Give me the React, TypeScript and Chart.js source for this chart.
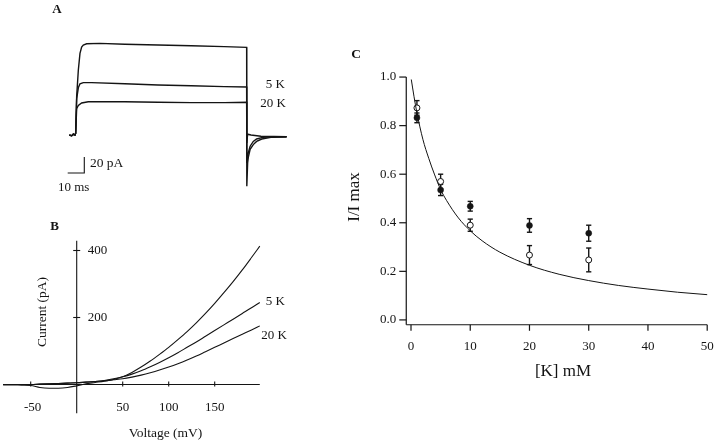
import React, { useEffect, useRef } from "react";
import { Chart, registerables } from "chart.js";

Chart.register(...registerables);

const FONT = '"Liberation Serif", "Times New Roman", serif';
const INK = "#141414";

// ---------------- Panel A: current traces (time in ms, current in pA) ----------------
const ctrlTime = [-3.4, -2, -1, 0, 0.4, 1, 2, 3, 4, 5, 7, 15, 30, 50, 70, 90, 103.4, 103.5, 104, 104.4, 105.5, 107.4, 109.4, 112.5, 118, 127.5];
const ctrlCurrent = [0, -1, 1, 0, 2, 48, 81, 102, 110, 112.5, 114, 114.5, 113.5, 112.5, 111.5, 110.5, 109.6, -64, -35, -28, -18, -12, -8, -5, -3, -2.5];
const k5Time = [-3.4, -2, -1, 0, 0.4, 1, 2, 3, 5, 10, 30, 50, 70, 90, 103.4, 103.5, 104.4, 105.5, 107.4, 109.4, 113, 127.5];
const k5Current = [0, -1, 1, 0, 2, 45, 59, 64, 65.5, 65.5, 64, 62.5, 61.5, 60.5, 60, -35, -22, -14, -8, -5, -3, -2];
const k20Time = [-3.4, -2, -1, 0, 0.4, 1, 2, 4, 8, 30, 50, 70, 90, 103.4, 103.5, 104, 106, 112, 127.5];
const k20Current = [0, -1, 1, 0, 2, 33, 37, 40, 41.5, 41.5, 41, 40.5, 40.5, 41, -10, 1, 0, -1.5, -2];
const scaleBarTime = [-4.4, 5.6, 5.6];
const scaleBarCurrent = [-47.5, -47.5, -27.5];
const traceLabels = ["5 K", "20 K"];
const scaleBarLabels = ["20 pA", "10 ms"];

// ---------------- Panel B: I-V curves (voltage mV, current pA) ----------------
const ivVoltage = [-80, -70, -60, -50, -40, -30, -20, -10, 0, 10, 20, 30, 40, 50, 60, 70, 80, 90, 100, 110, 120, 130, 140, 150, 160, 170, 180, 190, 199];
const ivCtrl = [-1, -1, -2, -3, -9, -11, -11, -9, -4, 2, 6, 10, 15, 23, 36, 52, 70, 90, 111, 134, 158, 184, 212, 242, 274, 307, 342, 379, 413];
const iv5K = [0, 0, 0, 0, 1, 2, 3, 4, 5, 7, 9, 12, 17, 23, 31, 41, 53, 66, 80, 95, 111, 127, 144, 161, 178, 195, 212, 229, 245];
const iv20K = [0, 0, 0, 0, 1, 2, 3, 4, 5, 7, 9, 11, 14, 17, 22, 28, 35, 43, 52, 62, 73, 85, 98, 111, 124, 137, 150, 163, 175];
const ivXTicks = [-50, 50, 100, 150];
const ivYTicks = [200, 400];
const ivXRange = [-80, 199];
const ivYRange = [-86, 429];

// ---------------- Panel C: normalized current vs [K] ----------------
const kConc = [1, 5, 10, 20, 30];
const filledMean = [0.832, 0.535, 0.468, 0.389, 0.357];
const filledErr = [0.02, 0.023, 0.02, 0.028, 0.033];
const openMean = [0.873, 0.57, 0.39, 0.267, 0.247];
const openErr = [0.03, 0.03, 0.025, 0.039, 0.049];
const fitK = [0.05, 0.5, 1, 2, 3, 4, 5, 6, 8, 10, 12, 15, 20, 25, 30, 35, 40, 45, 50];
const fitValue = [0.99, 0.921, 0.853, 0.744, 0.665, 0.597, 0.537, 0.492, 0.42, 0.367, 0.326, 0.279, 0.225, 0.188, 0.162, 0.142, 0.127, 0.114, 0.104];
const cXTicks = [0, 10, 20, 30, 40, 50];
const cYTicks = [0, 0.2, 0.4, 0.6, 0.8, 1.0];

const pts = (xs: number[], ys: number[]) => xs.map((x, i) => ({ x, y: ys[i] }));

function drawText(ctx: any, s: string, x: number, y: number, size: number, opts: any = {}) {
  ctx.save();
  ctx.fillStyle = INK;
  ctx.font = `${opts.bold ? "bold " : ""}${size}px ${FONT}`;
  ctx.textAlign = opts.align || "center";
  ctx.textBaseline = "middle";
  ctx.translate(x, y);
  if (opts.rotate) ctx.rotate(opts.rotate);
  ctx.fillText(s, 0, 0);
  ctx.restore();
}

function seg(ctx: any, x1: number, y1: number, x2: number, y2: number, w = 1.1) {
  ctx.save();
  ctx.strokeStyle = INK;
  ctx.lineWidth = w;
  ctx.beginPath();
  ctx.moveTo(x1, y1);
  ctx.lineTo(x2, y2);
  ctx.stroke();
  ctx.restore();
}

function baseOptions(xmin: number, xmax: number, ymin: number, ymax: number) {
  return {
    responsive: false,
    animation: false,
    events: [],
    layout: { padding: 0 },
    plugins: { legend: { display: false }, tooltip: { enabled: false } },
    scales: {
      x: { type: "linear", min: xmin, max: xmax, display: false },
      y: { type: "linear", min: ymin, max: ymax, display: false },
    },
  };
}

const lineDs = (data: any[], width = 1, extra: any = {}) => ({
  data,
  showLine: true,
  borderColor: INK,
  borderWidth: width,
  pointRadius: 0,
  fill: false,
  tension: 0,
  ...extra,
});

function ChartCanvas({ left, top, width, height, make }: any) {
  const ref = useRef<HTMLCanvasElement>(null);
  useEffect(() => {
    const chart = new Chart(ref.current as HTMLCanvasElement, make());
    return () => chart.destroy();
  }, []);
  return (
    <canvas
      ref={ref}
      width={width}
      height={height}
      style={{ position: "absolute", left, top, width, height }}
    />
  );
}

// Panel A: canvas at page (40,0), 260x200. t=0 at x=75, 1.66 px/ms; 0 pA at y=135, 0.8 px/pA
function makeA() {
  return {
    type: "scatter",
    data: {
      datasets: [
        lineDs(pts(ctrlTime, ctrlCurrent), 1.4),
        lineDs(pts(k5Time, k5Current), 1.4),
        lineDs(pts(k20Time, k20Current), 1.4),
        lineDs(pts(scaleBarTime, scaleBarCurrent), 1.1),
      ],
    },
    options: baseOptions((40 - 75) / 1.66, (300 - 75) / 1.66, -81.25, 168.75),
    plugins: [
      {
        id: "annA",
        afterDatasetsDraw(chart: any) {
          const { ctx } = chart;
          const x = chart.scales.x;
          const y = chart.scales.y;
          drawText(ctx, "A", 17, 9.5, 13, { bold: true });
          drawText(ctx, traceLabels[0], x.getPixelForValue(126.5), y.getPixelForValue(62.9), 13, { align: "right" });
          drawText(ctx, traceLabels[1], x.getPixelForValue(127.1), y.getPixelForValue(39), 13, { align: "right" });
          drawText(ctx, scaleBarLabels[0], x.getPixelForValue(scaleBarTime[2]) + 5.7, y.getPixelForValue(-35), 13.5, { align: "left" });
          drawText(ctx, scaleBarLabels[1], x.getPixelForValue(scaleBarTime[0]) - 9.7, y.getPixelForValue(scaleBarCurrent[0]) + 15, 13, { align: "left" });
        },
      },
    ],
  };
}

// Panel B: canvas at page (0,215), 300x228. V=0 at x=76.7, 0.92 px/mV; I=0 at y=384.5, 0.335 px/pA
function makeB() {
  const top = 215;
  return {
    type: "scatter",
    data: {
      datasets: [
        lineDs(pts(ivVoltage, ivCtrl), 1.1, { cubicInterpolationMode: "monotone" }),
        lineDs(pts(ivVoltage, iv5K), 1.1, { cubicInterpolationMode: "monotone" }),
        lineDs(pts(ivVoltage, iv20K), 1.1, { cubicInterpolationMode: "monotone" }),
      ],
    },
    options: baseOptions(-76.7 / 0.92, (300 - 76.7) / 0.92, (384.5 - 443) / 0.335, (384.5 - top) / 0.335),
    plugins: [
      {
        id: "axesB",
        beforeDatasetsDraw(chart: any) {
          const { ctx } = chart;
          const x = chart.scales.x;
          const y = chart.scales.y;
          const x0 = x.getPixelForValue(0);
          const y0 = y.getPixelForValue(0);
          seg(ctx, x.getPixelForValue(ivXRange[0]), y0, x.getPixelForValue(ivXRange[1]), y0);
          seg(ctx, x0, y.getPixelForValue(ivYRange[0]), x0, y.getPixelForValue(ivYRange[1]));
          ivXTicks.forEach((v) => {
            const px = x.getPixelForValue(v);
            seg(ctx, px, y0 - 3, px, y0 + 2);
            drawText(ctx, String(v), px + (v < 0 ? 2 : 0), y0 + 23, 13);
          });
          ivYTicks.forEach((v) => {
            const py = y.getPixelForValue(v);
            seg(ctx, x0 - 3.5, py, x0 + 3.5, py);
            drawText(ctx, String(v), x0 + 11, py, 13, { align: "left" });
          });
        },
        afterDatasetsDraw(chart: any) {
          const { ctx } = chart;
          const y = chart.scales.y;
          drawText(ctx, "B", 54.7, 227 - top, 13, { bold: true });
          drawText(ctx, traceLabels[0], 285, y.getPixelForValue(249), 13, { align: "right" });
          drawText(ctx, traceLabels[1], 287, y.getPixelForValue(147), 13, { align: "right" });
          drawText(ctx, "Current (pA)", 42.5, 312 - top, 13.5, { rotate: -Math.PI / 2 });
          drawText(ctx, "Voltage (mV)", 165.5, 433 - top, 13.5);
        },
      },
    ],
  };
}

// Panel C: canvas at page (330,40), 390x350. K=0 at x=408, 6.08 px/mM; 0 at y=323, 250 px/unit
function makeC() {
  const left = 330;
  const top = 40;
  const axisK = -0.8;
  const axisV = -0.02;
  return {
    type: "scatter",
    data: {
      datasets: [
        lineDs(pts(fitK, fitValue), 1, { cubicInterpolationMode: "monotone" }),
        {
          data: pts(kConc, openMean),
          pointStyle: "circle",
          pointRadius: 3,
          pointBackgroundColor: "#ffffff",
          pointBorderColor: INK,
          pointBorderWidth: 1,
          showLine: false,
        },
        {
          data: pts(kConc, filledMean),
          pointStyle: "circle",
          pointRadius: 3,
          pointBackgroundColor: INK,
          pointBorderColor: INK,
          pointBorderWidth: 0.5,
          showLine: false,
        },
      ],
    },
    options: baseOptions((left - 408) / 6.08, (720 - 408) / 6.08, (323 - 390) / 250, (323 - top) / 250),
    plugins: [
      {
        id: "axesC",
        beforeDatasetsDraw(chart: any) {
          const { ctx } = chart;
          const x = chart.scales.x;
          const y = chart.scales.y;
          const ax = x.getPixelForValue(axisK);
          const ay = y.getPixelForValue(axisV);
          seg(ctx, ax, ay, ax, y.getPixelForValue(1.0), 1.2);
          seg(ctx, ax, ay, x.getPixelForValue(50), ay, 1.2);
          cYTicks.forEach((v) => {
            const py = y.getPixelForValue(v);
            seg(ctx, ax - 7, py, ax, py, 1.2);
            drawText(ctx, v.toFixed(1), ax - 10, py, 13, { align: "right" });
          });
          cXTicks.forEach((k) => {
            const px = x.getPixelForValue(k);
            seg(ctx, px, ay, px, ay + 6, 1.2);
            drawText(ctx, String(k), px, ay + 22, 13);
          });
          const bars = (means: number[], errs: number[]) => {
            kConc.forEach((k, i) => {
              const px = x.getPixelForValue(k);
              const pTop = y.getPixelForValue(means[i] + errs[i]);
              const pBot = y.getPixelForValue(means[i] - errs[i]);
              seg(ctx, px, pTop, px, pBot, 1.4);
              seg(ctx, px - 2.6, pTop, px + 2.6, pTop, 1.4);
              seg(ctx, px - 2.6, pBot, px + 2.6, pBot, 1.4);
            });
          };
          bars(openMean, openErr);
          bars(filledMean, filledErr);
        },
        afterDatasetsDraw(chart: any) {
          const { ctx } = chart;
          drawText(ctx, "C", 356 - left, 54.7 - top, 13.5, { bold: true });
          drawText(ctx, "I/I max", 355 - left, 197 - top, 17, { rotate: -Math.PI / 2 });
          drawText(ctx, "[K] mM", 563 - left, 372 - top, 17);
        },
      },
    ],
  };
}

export default function App() {
  useEffect(() => {
    document.body.style.margin = "0";
  }, []);
  return (
    <div style={{ position: "fixed", left: 0, top: 0, width: 720, height: 443, background: "#ffffff", overflow: "hidden" }}>
      <ChartCanvas left={40} top={0} width={260} height={200} make={makeA} />
      <ChartCanvas left={0} top={215} width={300} height={228} make={makeB} />
      <ChartCanvas left={330} top={40} width={390} height={350} make={makeC} />
    </div>
  );
}
